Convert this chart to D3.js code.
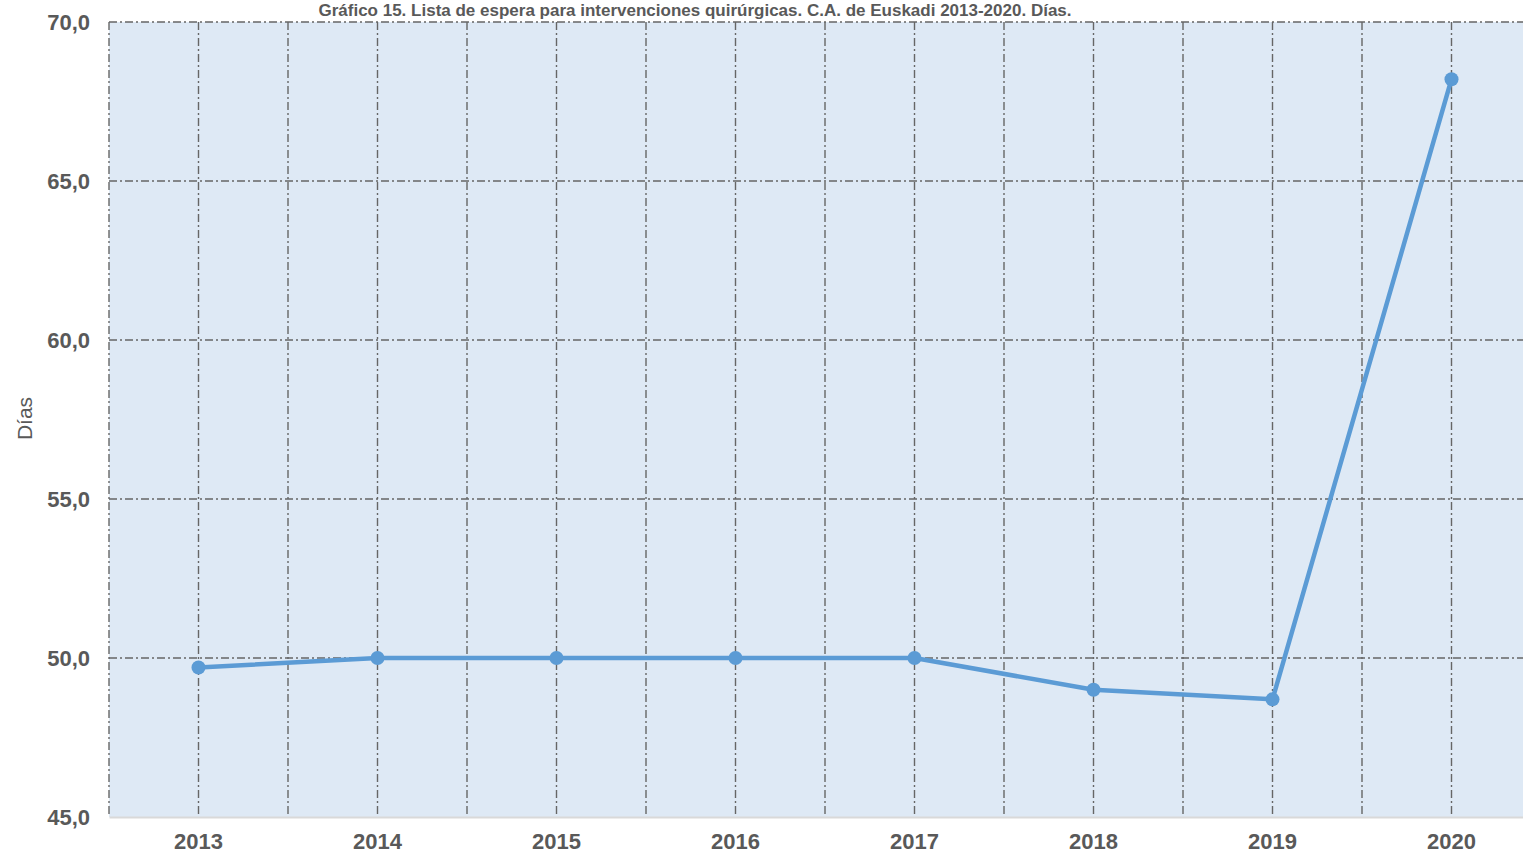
<!doctype html>
<html>
<head>
<meta charset="utf-8">
<title>Lista de espera para intervenciones quirúrgicas</title>
<script src="https://cdn.jsdelivr.net/npm/d3@7"></script>
<style>
  body { margin: 0; background: #fff; }
  svg { display: block; font-family: "Liberation Sans", Arial, sans-serif; }
</style>
</head>
<body>
<div id="chart-area"></div>
<script>
// Data
var years = ["2013", "2014", "2015", "2016", "2017", "2018", "2019", "2020"];
var dias = [49.7, 50.0, 50.0, 50.0, 50.0, 49.0, 48.7, 68.2];
var yTicks = [45, 50, 55, 60, 65, 70];
var titleText = "Gráfico 15. Lista de espera para intervenciones quirúrgicas. C.A. de Euskadi 2013-2020. Días.";

var W = 1523, H = 857;
var margin = { left: 109, top: 22, right: W - 1541, bottom: H - 817 };
var width = 1541 - margin.left, height = 817 - margin.top;

var svg = d3.select("#chart-area").append("svg").attr("width", W).attr("height", H);
var g = svg.append("g").attr("transform", "translate(" + margin.left + "," + margin.top + ")");

// Scales
var x = d3.scaleBand().domain(years).range([0, width]).padding(0);
var y = d3.scaleLinear().domain([45, 70]).range([height, 0]);

// Plot background
g.append("rect").attr("width", width).attr("height", height).attr("fill", "#dee9f5");

var gridColor = "#666666";
var dashes = "8,3,2,3";

// Vertical gridlines: category centres and band edges
var vLines = [0];
years.forEach(function(d){
    vLines.push(x(d) + x.bandwidth() / 2);
    vLines.push(x(d) + x.bandwidth());
});
g.selectAll(".vgrid").data(vLines).enter().append("line")
    .attr("class", "vgrid")
    .attr("x1", function(d){ return d; }).attr("x2", function(d){ return d; })
    .attr("y1", 0).attr("y2", height - 3)
    .attr("stroke", gridColor).attr("stroke-width", 1.4)
    .attr("stroke-dasharray", dashes);

// Horizontal gridlines
g.selectAll(".hgrid").data(yTicks.filter(function(d){ return d > 45; })).enter().append("line")
    .attr("class", "hgrid")
    .attr("x1", 0).attr("x2", width)
    .attr("y1", function(d){ return y(d); }).attr("y2", function(d){ return y(d); })
    .attr("stroke", gridColor).attr("stroke-width", 1.4)
    .attr("stroke-dasharray", dashes);

// Y axis
var yAxisCall = d3.axisLeft(y).tickValues(yTicks).tickSize(0).tickPadding(19)
    .tickFormat(function(d){ return d3.format(".1f")(d).replace(".", ","); });
var yAxis = g.append("g").call(yAxisCall);
yAxis.select(".domain").remove();
yAxis.selectAll("text").attr("fill", "#595959").attr("font-size", "22px").attr("font-weight", "bold")
    .attr("font-family", "Liberation Sans, Arial, sans-serif");

// X axis
var xAxisCall = d3.axisBottom(x).tickSize(0).tickPadding(16);
var xAxis = g.append("g").attr("transform", "translate(0," + height + ")").call(xAxisCall);
xAxis.select(".domain").attr("stroke", "#d9d9d9").attr("stroke-width", 2);
xAxis.selectAll("text").attr("fill", "#595959").attr("font-size", "22px").attr("font-weight", "bold")
    .attr("font-family", "Liberation Sans, Arial, sans-serif");

// Line
var line = d3.line()
    .x(function(d, i){ return x(years[i]) + x.bandwidth() / 2; })
    .y(function(d){ return y(d); });
g.append("path").datum(dias)
    .attr("fill", "none").attr("stroke", "#5b9bd5").attr("stroke-width", 4.5)
    .attr("stroke-linejoin", "round")
    .attr("d", line);

g.selectAll(".dot").data(dias).enter().append("circle")
    .attr("class", "dot")
    .attr("cx", function(d, i){ return x(years[i]) + x.bandwidth() / 2; })
    .attr("cy", function(d){ return y(d); })
    .attr("r", 7)
    .attr("fill", "#5b9bd5");

// Axis title
svg.append("text")
    .attr("transform", "translate(32," + (margin.top + height / 2 - 1) + ") rotate(-90)")
    .attr("text-anchor", "middle")
    .attr("fill", "#595959").attr("font-size", "21px")
    .text("Días");

// Title, kept inside the strip above the plot
svg.append("text")
    .attr("x", 695).attr("y", 16)
    .attr("text-anchor", "middle")
    .attr("fill", "#595959").attr("font-size", "17px").attr("font-weight", "bold")
    .text(titleText);
</script>
</body>
</html>
